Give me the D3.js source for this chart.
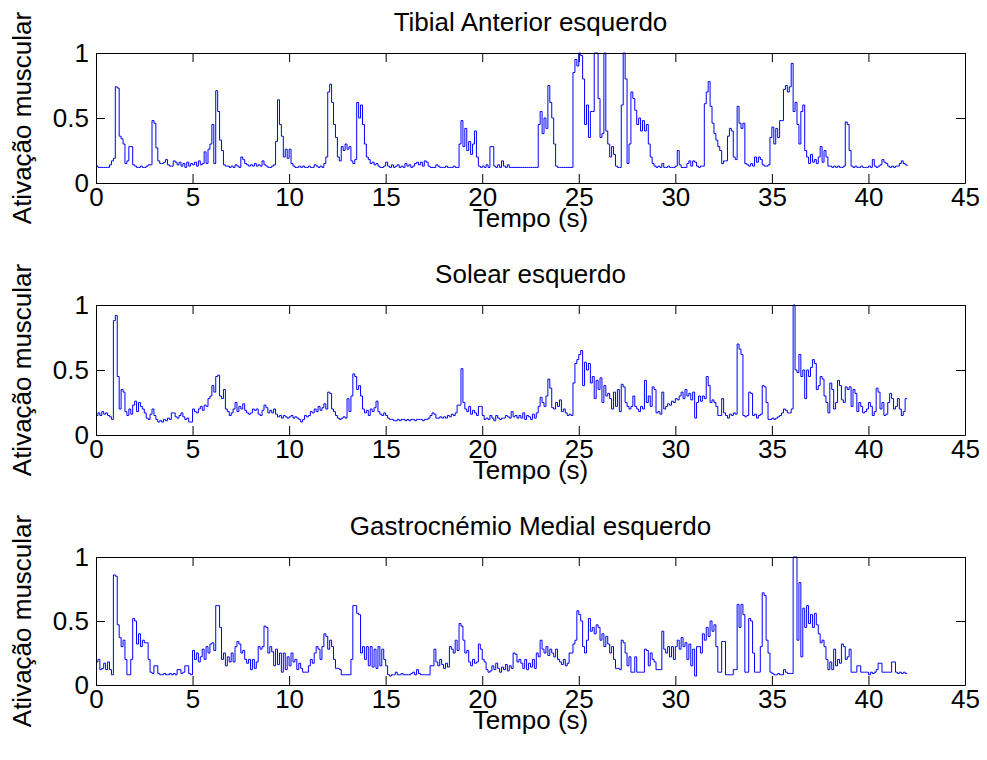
<!DOCTYPE html>
<html>
<head>
<meta charset="utf-8">
<script src="https://cdn.jsdelivr.net/npm/d3@7"></script>
<style>
body { margin: 0; background: #ffffff; }
svg { display: block; font-family: "Liberation Sans", Arial, sans-serif; }
</style>
</head>
<body>
<svg width="987" height="760"></svg>
<script>
// one sample every 0.1 s, from 0 to 42 s
const sampleStep = 0.1;

const titles = ["Tibial Anterior esquerdo", "Solear esquerdo", "Gastrocnémio Medial esquerdo"];
const xLabel = "Tempo (s)";
const yLabel = "Ativação muscular";
const xTicks = [0, 5, 10, 15, 20, 25, 30, 35, 40, 45];
const yTicks = [0, 0.5, 1];

const tibialAnterior = [
    0.13,0.12,0.12,0.12,0.12,0.12,0.12,0.14,0.17,0.19,
    0.74,0.73,0.36,0.34,0.30,0.15,0.17,0.28,0.28,0.14,
    0.13,0.12,0.12,0.13,0.12,0.12,0.13,0.14,0.14,0.48,
    0.46,0.27,0.17,0.15,0.15,0.16,0.18,0.14,0.13,0.13,
    0.17,0.16,0.14,0.16,0.13,0.15,0.12,0.16,0.13,0.15,
    0.14,0.16,0.13,0.17,0.14,0.15,0.24,0.15,0.26,0.30,
    0.45,0.15,0.71,0.55,0.33,0.25,0.14,0.13,0.13,0.12,
    0.13,0.12,0.14,0.13,0.12,0.20,0.18,0.15,0.14,0.13,
    0.14,0.13,0.15,0.13,0.14,0.13,0.17,0.14,0.13,0.12,
    0.12,0.13,0.14,0.32,0.64,0.45,0.36,0.20,0.26,0.19,
    0.26,0.15,0.13,0.12,0.12,0.13,0.12,0.13,0.12,0.12,
    0.13,0.12,0.12,0.14,0.13,0.12,0.13,0.12,0.15,0.20,
    0.70,0.76,0.62,0.45,0.35,0.20,0.17,0.28,0.25,0.30,
    0.26,0.28,0.17,0.15,0.18,0.62,0.50,0.60,0.45,0.30,
    0.20,0.18,0.15,0.16,0.14,0.15,0.13,0.12,0.12,0.13,
    0.16,0.13,0.12,0.14,0.12,0.13,0.14,0.12,0.13,0.12,
    0.15,0.13,0.14,0.12,0.13,0.15,0.16,0.14,0.16,0.13,
    0.17,0.16,0.13,0.12,0.12,0.12,0.14,0.13,0.12,0.12,
    0.12,0.13,0.12,0.12,0.12,0.13,0.12,0.12,0.30,0.48,
    0.28,0.42,0.25,0.32,0.22,0.30,0.40,0.20,0.13,0.12,
    0.13,0.12,0.14,0.12,0.28,0.28,0.13,0.12,0.14,0.12,
    0.17,0.13,0.12,0.14,0.12,0.12,0.12,0.12,0.12,0.12,
    0.12,0.12,0.12,0.12,0.12,0.12,0.12,0.12,0.12,0.45,
    0.55,0.38,0.50,0.42,0.75,0.62,0.50,0.30,0.13,0.12,
    0.12,0.12,0.12,0.12,0.12,0.12,0.12,0.85,0.95,0.90,
    1.00,0.98,0.80,0.45,0.60,0.35,0.55,0.55,1.00,1.00,
    0.65,0.35,0.38,1.00,0.40,0.30,0.20,0.28,0.22,0.13,
    0.12,0.12,0.60,1.00,0.80,0.15,0.30,0.70,0.65,0.56,
    0.45,0.50,0.40,0.48,0.40,0.45,0.30,0.20,0.15,0.13,
    0.12,0.13,0.12,0.15,0.12,0.12,0.13,0.12,0.12,0.12,
    0.13,0.25,0.14,0.12,0.12,0.12,0.15,0.17,0.13,0.17,
    0.16,0.13,0.12,0.13,0.13,0.61,0.70,0.78,0.59,0.46,
    0.38,0.33,0.28,0.25,0.15,0.17,0.17,0.36,0.42,0.40,
    0.20,0.18,0.59,0.46,0.42,0.46,0.15,0.14,0.13,0.15,
    0.13,0.20,0.16,0.20,0.18,0.14,0.13,0.13,0.14,0.35,
    0.43,0.30,0.42,0.35,0.48,0.48,0.72,0.75,0.70,0.74,
    0.92,0.55,0.62,0.45,0.30,0.55,0.60,0.25,0.20,0.15,
    0.22,0.16,0.18,0.15,0.20,0.28,0.16,0.25,0.20,0.13,
    0.13,0.12,0.13,0.12,0.13,0.12,0.12,0.13,0.47,0.45,
    0.25,0.13,0.12,0.13,0.12,0.12,0.13,0.12,0.12,0.12,
    0.13,0.12,0.18,0.13,0.12,0.13,0.14,0.18,0.16,0.15,
    0.13,0.12,0.13,0.12,0.13,0.13,0.15,0.17,0.15,0.14,
    0.13
];

const solear = [
    0.15,0.17,0.15,0.18,0.16,0.17,0.15,0.14,0.12,0.88,
    0.92,0.45,0.20,0.35,0.33,0.18,0.15,0.20,0.16,0.23,
    0.26,0.18,0.25,0.22,0.20,0.17,0.13,0.12,0.16,0.20,
    0.15,0.12,0.10,0.11,0.10,0.12,0.11,0.13,0.12,0.17,
    0.17,0.14,0.13,0.15,0.17,0.14,0.12,0.13,0.10,0.10,
    0.20,0.18,0.17,0.20,0.22,0.19,0.23,0.22,0.28,0.30,
    0.38,0.33,0.45,0.46,0.30,0.28,0.35,0.20,0.18,0.15,
    0.17,0.20,0.25,0.18,0.22,0.20,0.24,0.19,0.17,0.16,
    0.17,0.20,0.19,0.20,0.16,0.15,0.19,0.23,0.21,0.17,
    0.19,0.17,0.20,0.16,0.14,0.15,0.13,0.15,0.14,0.13,
    0.14,0.15,0.13,0.14,0.13,0.12,0.10,0.12,0.15,0.14,
    0.15,0.18,0.17,0.20,0.18,0.22,0.19,0.21,0.24,0.20,
    0.33,0.32,0.20,0.18,0.15,0.13,0.12,0.13,0.14,0.13,
    0.28,0.18,0.30,0.47,0.45,0.35,0.38,0.30,0.20,0.17,
    0.19,0.15,0.20,0.18,0.21,0.26,0.18,0.16,0.15,0.17,
    0.15,0.13,0.12,0.12,0.11,0.11,0.12,0.11,0.12,0.12,
    0.11,0.12,0.11,0.12,0.12,0.11,0.12,0.12,0.12,0.11,
    0.12,0.12,0.13,0.15,0.17,0.16,0.13,0.13,0.14,0.13,
    0.14,0.13,0.15,0.14,0.16,0.15,0.17,0.23,0.23,0.51,
    0.25,0.20,0.18,0.22,0.16,0.19,0.17,0.15,0.22,0.22,
    0.15,0.12,0.13,0.12,0.15,0.13,0.11,0.15,0.13,0.12,
    0.13,0.13,0.15,0.14,0.13,0.18,0.14,0.15,0.13,0.15,
    0.13,0.17,0.12,0.15,0.14,0.12,0.16,0.13,0.17,0.22,
    0.29,0.25,0.22,0.30,0.43,0.36,0.21,0.20,0.25,0.22,
    0.27,0.18,0.20,0.17,0.15,0.16,0.15,0.40,0.55,0.58,
    0.62,0.65,0.38,0.56,0.50,0.55,0.40,0.45,0.28,0.42,
    0.35,0.44,0.25,0.38,0.30,0.32,0.28,0.20,0.33,0.22,
    0.35,0.18,0.39,0.37,0.25,0.22,0.20,0.22,0.30,0.22,
    0.20,0.18,0.22,0.20,0.42,0.25,0.30,0.22,0.37,0.35,
    0.17,0.18,0.16,0.33,0.20,0.22,0.24,0.23,0.26,0.25,
    0.28,0.27,0.30,0.33,0.28,0.35,0.30,0.32,0.27,0.33,
    0.13,0.25,0.30,0.26,0.30,0.28,0.45,0.38,0.25,0.27,
    0.25,0.22,0.15,0.15,0.28,0.17,0.15,0.13,0.16,0.15,
    0.17,0.16,0.70,0.66,0.62,0.15,0.14,0.15,0.33,0.32,
    0.15,0.16,0.13,0.15,0.16,0.38,0.37,0.25,0.12,0.12,
    0.13,0.12,0.13,0.14,0.15,0.17,0.20,0.19,0.17,0.17,
    0.20,1.00,0.50,0.48,0.62,0.45,0.50,0.28,0.50,0.45,
    0.52,0.58,0.55,0.35,0.38,0.45,0.43,0.30,0.25,0.17,
    0.40,0.35,0.20,0.25,0.42,0.38,0.27,0.25,0.37,0.35,
    0.37,0.22,0.35,0.32,0.18,0.25,0.22,0.17,0.18,0.20,
    0.25,0.22,0.15,0.18,0.36,0.33,0.20,0.25,0.15,0.16,
    0.25,0.32,0.28,0.20,0.22,0.28,0.20,0.15,0.18,0.28,
    0.28
];

const gastrocnemio = [
    0.18,0.20,0.12,0.13,0.17,0.12,0.18,0.12,0.08,0.86,
    0.85,0.47,0.37,0.30,0.35,0.20,0.08,0.08,0.20,0.52,
    0.50,0.32,0.40,0.30,0.35,0.33,0.33,0.20,0.10,0.09,
    0.15,0.15,0.09,0.08,0.08,0.09,0.08,0.08,0.09,0.08,
    0.09,0.08,0.12,0.12,0.09,0.10,0.15,0.15,0.09,0.08,
    0.27,0.20,0.25,0.18,0.22,0.28,0.20,0.30,0.25,0.32,
    0.33,0.27,0.62,0.62,0.45,0.20,0.25,0.15,0.22,0.18,
    0.25,0.18,0.30,0.34,0.32,0.25,0.27,0.20,0.17,0.20,
    0.12,0.20,0.13,0.18,0.30,0.28,0.30,0.46,0.45,0.25,
    0.30,0.26,0.15,0.28,0.16,0.25,0.10,0.25,0.12,0.22,
    0.15,0.25,0.18,0.20,0.12,0.17,0.13,0.10,0.10,0.10,
    0.15,0.20,0.17,0.25,0.30,0.28,0.20,0.30,0.40,0.38,
    0.28,0.35,0.30,0.20,0.13,0.13,0.12,0.08,0.08,0.08,
    0.08,0.08,0.20,0.62,0.62,0.56,0.55,0.25,0.30,0.20,
    0.30,0.15,0.30,0.14,0.28,0.13,0.30,0.15,0.28,0.20,
    0.15,0.08,0.07,0.08,0.08,0.10,0.08,0.08,0.09,0.08,
    0.08,0.08,0.08,0.09,0.10,0.08,0.12,0.09,0.08,0.08,
    0.08,0.08,0.08,0.15,0.15,0.28,0.18,0.15,0.20,0.16,
    0.13,0.17,0.14,0.30,0.28,0.25,0.35,0.27,0.48,0.46,
    0.35,0.25,0.27,0.18,0.15,0.20,0.17,0.18,0.32,0.28,
    0.20,0.18,0.12,0.10,0.11,0.15,0.12,0.17,0.13,0.10,
    0.14,0.12,0.16,0.11,0.15,0.13,0.25,0.24,0.18,0.20,
    0.17,0.13,0.20,0.12,0.17,0.14,0.20,0.13,0.25,0.22,
    0.35,0.28,0.25,0.30,0.23,0.28,0.25,0.22,0.28,0.20,
    0.18,0.16,0.20,0.15,0.17,0.25,0.25,0.32,0.35,0.58,
    0.55,0.50,0.30,0.25,0.35,0.52,0.42,0.45,0.40,0.47,
    0.45,0.35,0.40,0.30,0.38,0.32,0.25,0.30,0.20,0.13,
    0.13,0.12,0.35,0.33,0.25,0.15,0.22,0.10,0.10,0.22,
    0.10,0.10,0.10,0.10,0.28,0.27,0.15,0.25,0.20,0.18,
    0.12,0.12,0.12,0.42,0.28,0.25,0.30,0.22,0.30,0.20,
    0.30,0.35,0.28,0.37,0.30,0.33,0.20,0.32,0.15,0.28,
    0.07,0.30,0.30,0.25,0.40,0.35,0.45,0.38,0.50,0.42,
    0.47,0.30,0.10,0.10,0.34,0.34,0.08,0.08,0.08,0.08,
    0.12,0.12,0.63,0.45,0.63,0.55,0.10,0.10,0.52,0.50,
    0.25,0.10,0.10,0.10,0.30,0.72,0.70,0.35,0.25,0.10,
    0.09,0.08,0.08,0.09,0.08,0.08,0.12,0.10,0.09,0.09,
    0.09,1.00,1.00,0.35,0.80,0.22,0.60,0.45,0.62,0.48,
    0.55,0.45,0.56,0.47,0.40,0.33,0.35,0.30,0.20,0.12,
    0.18,0.12,0.28,0.15,0.20,0.17,0.32,0.30,0.20,0.22,
    0.28,0.10,0.10,0.10,0.15,0.15,0.10,0.10,0.10,0.10,
    0.08,0.10,0.09,0.10,0.12,0.17,0.17,0.10,0.10,0.10,
    0.10,0.10,0.18,0.18,0.10,0.09,0.10,0.09,0.10,0.09,
    0.09
];

let lineColor = "#0000ff";
let fontSize = 26;

let xScale = d3.scaleLinear()
    .domain([0, 45])
    .range([96, 965]);

const panels = [
    { title: titles[0], values: tibialAnterior, top: 53, bottom: 183 },
    { title: titles[1], values: solear, top: 305, bottom: 435 },
    { title: titles[2], values: gastrocnemio, top: 557, bottom: 685 }
];

const styleAxis = (g) => {
    g.attr("font-size", fontSize)
        .attr("font-family", null)
        .attr("color", "#000");
    g.selectAll("line").attr("stroke-width", 1);
    g.select(".domain").attr("stroke-width", 1);
};

const drawPanel = (p) => {
    let svg = d3.select("svg");
    let yScale = d3.scaleLinear()
        .domain([0, 1])
        .range([p.bottom, p.top]);

    let line = d3.line()
        .x((d, i) => xScale(i * sampleStep))
        .y(d => yScale(d))
        .curve(d3.curveStepAfter);

    svg.append("path")
        .datum(p.values)
        .attr("d", line)
        .attr("fill", "none")
        .attr("stroke", lineColor)
        .attr("stroke-width", 1);

    // box with ticks pointing inwards
    svg.append("g")
        .attr("transform", `translate(0, ${p.bottom})`)
        .call(d3.axisBottom(xScale).tickValues(xTicks).tickSizeInner(-9).tickSizeOuter(0).tickPadding(5))
        .call(styleAxis);

    svg.append("g")
        .attr("transform", `translate(0, ${p.top})`)
        .call(d3.axisTop(xScale).tickValues(xTicks).tickSizeInner(-9).tickSizeOuter(0).tickFormat(""))
        .call(styleAxis);

    svg.append("g")
        .attr("transform", "translate(96, 0)")
        .call(d3.axisLeft(yScale).tickValues(yTicks).tickSizeInner(-9).tickSizeOuter(0).tickPadding(7).tickFormat(d3.format("")))
        .call(styleAxis);

    svg.append("g")
        .attr("transform", "translate(965, 0)")
        .call(d3.axisRight(yScale).tickValues(yTicks).tickSizeInner(-9).tickSizeOuter(0).tickFormat(""))
        .call(styleAxis);

    svg.append("text")
        .attr("x", 530.5)
        .attr("y", p.top - 22)
        .attr("text-anchor", "middle")
        .attr("font-size", fontSize)
        .text(p.title);

    svg.append("text")
        .attr("x", 530.5)
        .attr("y", p.bottom + 44)
        .attr("text-anchor", "middle")
        .attr("font-size", fontSize)
        .text(xLabel);

    svg.append("text")
        .attr("transform", `translate(31, ${(p.top + p.bottom) / 2}) rotate(-90)`)
        .attr("text-anchor", "middle")
        .attr("font-size", fontSize)
        .text(yLabel);
};

panels.forEach(drawPanel);
</script>
</body>
</html>
